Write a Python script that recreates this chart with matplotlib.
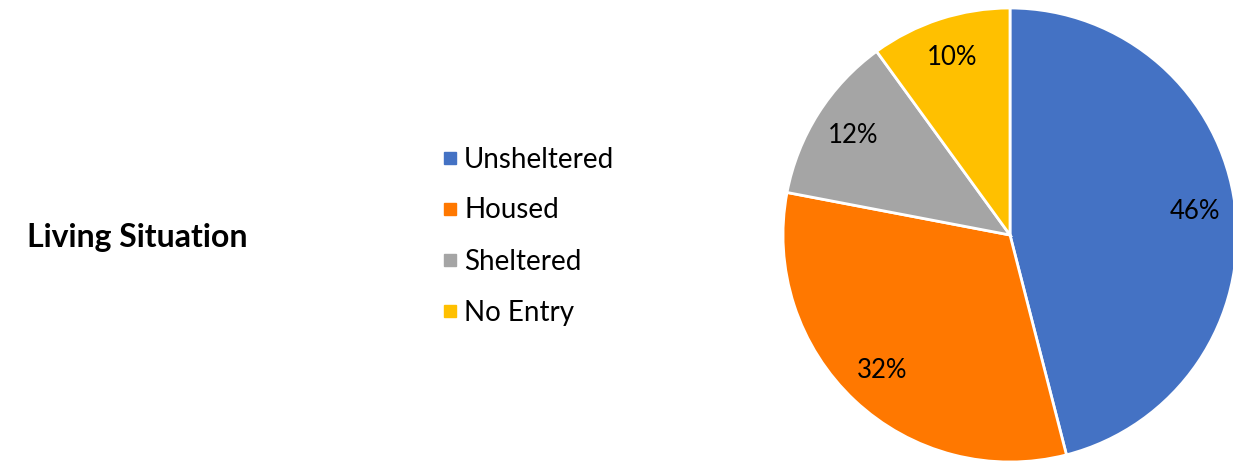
import matplotlib.pyplot as plt
from matplotlib.lines import Line2D

# Living situation breakdown (percent)
categories = ["Unsheltered", "Housed", "Sheltered", "No Entry"]
shares = [46, 32, 12, 10]
colors = ["#4472C4", "#FF7800", "#A5A5A5", "#FFC000"]
title = "Living Situation"

plt.rcParams['font.family'] = ['Lato', 'DejaVu Sans']

fig = plt.figure(figsize=(12.33, 4.68), dpi=100)

# pie axes placed so the pie sits at the right edge
ax = fig.add_axes([783 / 1233, 6 / 468, 454 / 1233, 454 / 468])
wedges, texts, autotexts = ax.pie(
    shares,
    colors=colors,
    startangle=90,
    counterclock=False,
    autopct=lambda p: f'{p:.0f}%',
    pctdistance=0.82,
    radius=1.0,
    wedgeprops={'edgecolor': 'white', 'linewidth': 2},
    textprops={'fontsize': 18.5, 'color': 'black'},
)
ax.set_xlim(-1.0, 1.0)
ax.set_ylim(-1.0, 1.0)
ax.set_aspect('equal')

# legend with small square markers
handles = [Line2D([], [], marker='s', linestyle='', markersize=8,
                  markerfacecolor=c, markeredgecolor=c) for c in colors]
fig.legend(handles, categories, loc='center left',
           bbox_to_anchor=(428 / 1233, 1 - 236 / 468),
           frameon=False, fontsize=20, handlelength=0.6,
           handletextpad=0.2, labelspacing=0.9, borderpad=0)

fig.text(27 / 1233, 1 - 238 / 468, title, fontsize=23, fontweight='bold',
         ha='left', va='center')

fig.savefig("out.png", dpi=100)
plt.close(fig)
